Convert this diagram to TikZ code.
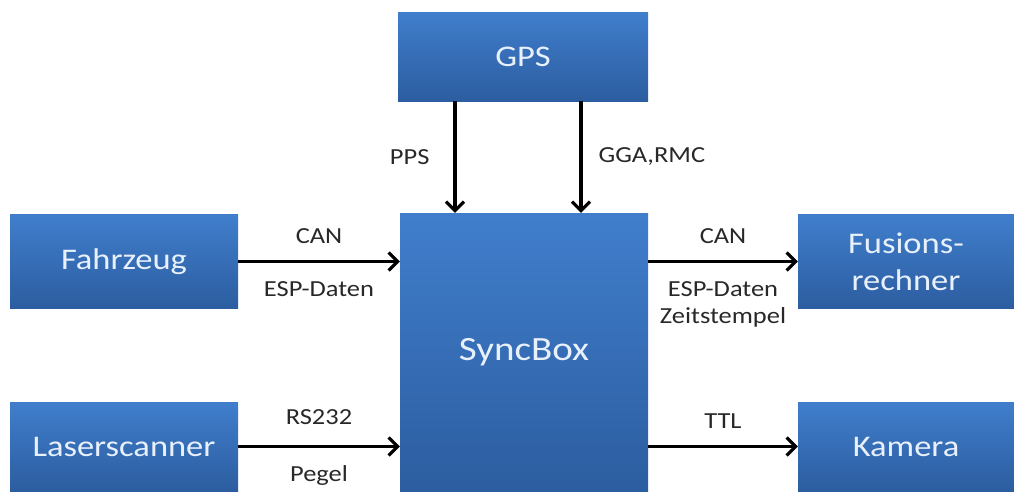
\documentclass[tikz,border=0pt]{standalone}
\usepackage{fontspec}
\setmainfont[FakeStretch=1.15]{Carlito}
\usetikzlibrary{positioning,arrows.meta,calc}
\definecolor{boxtop}{RGB}{64,126,204}
\definecolor{boxbottom}{RGB}{44,93,160}
\definecolor{boxtext}{RGB}{232,240,252}
\definecolor{labeltext}{RGB}{40,40,40}

\begin{document}
\begin{tikzpicture}[x=1pt,y=-1pt,
    block/.style={rectangle,top color=boxtop,bottom color=boxbottom,draw=none,text=boxtext,align=center,font=\fontsize{30}{37}\selectfont,inner sep=0pt},
    lbl/.style={text=labeltext,font=\fontsize{23}{27}\selectfont,align=center,inner sep=0pt},
    arrow/.style={-{Straight Barb[length=9pt,width=18pt]},line width=3.2pt,black}
  ]
    \useasboundingbox (0,0) rectangle (1014,491);
    \clip (0,0) rectangle (1014,491);

    \node[block,minimum width=250pt,minimum height=89pt] (gps) at (523,56.5) {GPS};
    \node[block,minimum width=248pt,minimum height=278pt,font=\fontsize{34}{40}\selectfont] (sync) at (524,352) {SyncBox};
    \node[block,minimum width=228pt,minimum height=94pt] (fahrzeug) at (124,261.5) {Fahrzeug};
    \node[block,minimum width=228pt,minimum height=89pt] (laser) at (124,446.5) {Laserscanner};
    \node[block,minimum width=216pt,minimum height=94pt] (fusion) at (906,261.5) {Fusions-\\rechner};
    \node[block,minimum width=216pt,minimum height=89pt] (kamera) at (906,446.5) {Kamera};

    \draw[arrow] ([xshift=-68pt]gps.south) -- ([xshift=-68pt]gps.south |- sync.north)
        node[lbl,midway,anchor=east,xshift=-24pt]{PPS};
    \draw[arrow] ([xshift=58pt]gps.south) -- ([xshift=58pt]gps.south |- sync.north)
        node[lbl,midway,anchor=west,xshift=16pt]{GGA,RMC};
    \draw[arrow] (fahrzeug.east) -- (fahrzeug.east -| sync.west)
        node[lbl,midway,yshift=25pt]{CAN} node[lbl,midway,yshift=-28pt]{ESP-Daten};
    \draw[arrow] (laser.east) -- (laser.east -| sync.west)
        node[lbl,midway,yshift=29pt]{RS232} node[lbl,midway,yshift=-29pt]{Pegel};
    \draw[arrow] (sync.east |- fusion.west) -- (fusion.west)
        node[lbl,midway,yshift=25pt]{CAN} node[lbl,midway,yshift=-43pt]{ESP-Daten\\Zeitstempel};
    \draw[arrow] (sync.east |- kamera.west) -- (kamera.west)
        node[lbl,midway,yshift=25pt]{TTL};
\end{tikzpicture}
\end{document}
